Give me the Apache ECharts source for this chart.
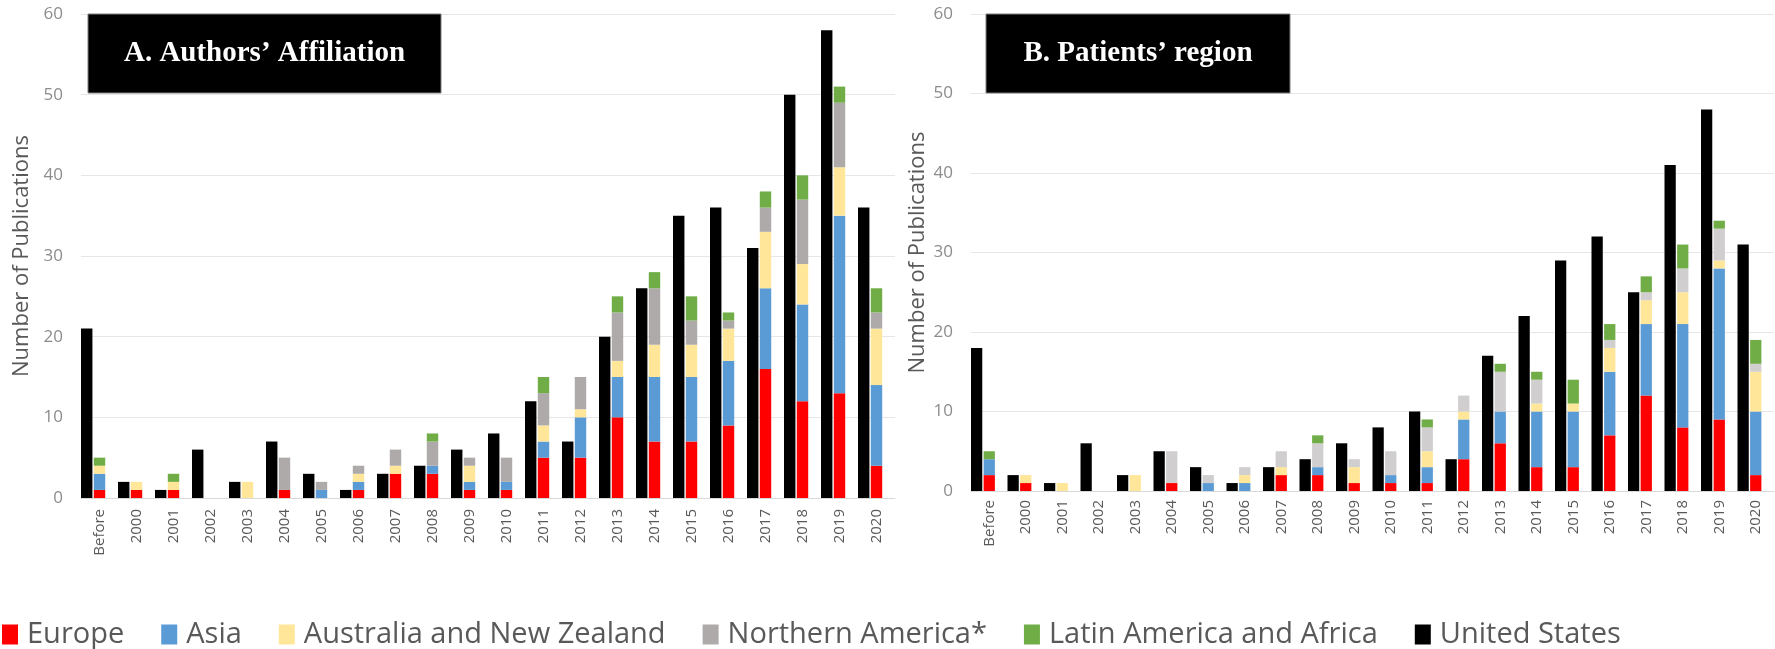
<!DOCTYPE html>
<html>
<head>
<meta charset="utf-8">
<script src="https://cdn.jsdelivr.net/npm/echarts@6/dist/echarts.min.js"></script>
<style>html,body{margin:0;padding:0;background:#fff}#c{width:1775px;height:649px}</style>
</head>
<body>
<div id="c"></div>
<script>
const categories = ['Before','2000','2001','2002','2003','2004','2005','2006','2007','2008','2009','2010','2011','2012','2013','2014','2015','2016','2017','2018','2019','2020'];
const seriesNames = ['Europe','Asia','Australia and New Zealand','Northern America*','Latin America and Africa','United States'];
const yTicks = [0,10,20,30,40,50,60];

// Panel A: Authors' affiliation
const usA = [21,2,1,6,2,7,3,1,3,4,6,8,12,7,20,26,35,36,31,50,58,36];
const europeA = [1,1,1,0,0,1,0,1,3,3,1,1,5,5,10,7,7,9,16,12,13,4];
const asiaA = [2,0,0,0,0,0,1,1,0,1,1,1,2,5,5,8,8,8,10,12,22,10];
const ausA = [1,1,1,0,2,0,0,1,1,0,2,0,2,1,2,4,4,4,7,5,6,7];
const northAmA = [0,0,0,0,0,4,1,1,2,3,1,3,4,4,6,7,3,1,3,8,8,2];
const latAfA = [1,0,1,0,0,0,0,0,0,1,0,0,2,0,2,2,3,1,2,3,2,3];

// Panel B: Patients' region
const usB = [18,2,1,6,2,5,3,1,3,4,6,8,10,4,17,22,29,32,25,41,48,31];
const europeB = [2,1,0,0,0,1,0,0,2,2,1,1,1,4,6,3,3,7,12,8,9,2];
const asiaB = [2,0,0,0,0,0,1,1,0,1,0,1,2,5,4,7,7,8,9,13,19,8];
const ausB = [0,1,1,0,2,0,0,1,1,0,2,0,2,1,0,1,1,3,3,4,1,5];
const northAmB = [0,0,0,0,0,4,1,1,2,3,1,3,3,2,5,3,0,1,1,3,4,1];
const latAfB = [1,0,0,0,0,0,0,0,0,1,0,0,1,0,1,1,3,2,2,3,1,3];

const titleA = 'A. Authors\u2019 Affiliation';
const titleB = 'B. Patients\u2019 region';
const yName = 'Number of Publications';

const colors = {
  'Europe':'#FF0000','Asia':'#5B9BD5','Australia and New Zealand':'#FFE699',
  'Northern America*':'#AEAAAA','Latin America and Africa':'#70AD47','United States':'#000000'
};
const naColorB = '#D0CECE';

const chart = echarts.init(document.getElementById('c'));
const font = '"Open Sans", sans-serif';

function xAxisFor(i, margin){
  return {type:'category', gridIndex:i, data:categories,
    axisLine:{show:true, lineStyle:{color:'#D9D9D9', width:1}},
    axisTick:{show:false},
    axisLabel:{rotate:90, interval:0, margin:margin, color:'#595959', fontSize:15, fontFamily:font}};
}
function yAxisFor(i, gap){
  return {type:'value', gridIndex:i, min:yTicks[0], max:yTicks[yTicks.length-1], interval:10,
    name:yName, nameLocation:'middle', nameGap:gap, nameRotate:90,
    nameTextStyle:{color:'#595959', fontSize:22, fontFamily:font},
    axisLine:{show:false}, axisTick:{show:false},
    splitLine:{lineStyle:{color:'#E6E6E6', width:1}},
    axisLabel:{margin:18, color:'#8C8C8C', fontSize:17, fontFamily:font}};
}
function panelSeries(i, us, eu, as, au, na, la, naColor){
  const mk = (name, data, stack, color) => ({
    name, type:'bar', xAxisIndex:i, yAxisIndex:i, stack, data,
    itemStyle:{color}, barCategoryGap:'0%', barGap:'12%', emphasis:{disabled:true}
  });
  return [
    mk('United States', us, 'us'+i, colors['United States']),
    mk('Europe', eu, 'reg'+i, colors['Europe']),
    mk('Asia', as, 'reg'+i, colors['Asia']),
    mk('Australia and New Zealand', au, 'reg'+i, colors['Australia and New Zealand']),
    mk('Northern America*', na, 'reg'+i, naColor),
    mk('Latin America and Africa', la, 'reg'+i, colors['Latin America and Africa']),
    // empty spacer slot (keeps the cluster left-aligned like the original)
    {name:'spacer'+i, type:'bar', xAxisIndex:i, yAxisIndex:i, stack:'sp'+i,
     data:categories.map(()=> '-'), barCategoryGap:'0%', barGap:'12%', silent:true}
  ];
}

const option = {
  animation:false,
  backgroundColor:'#fff',
  grid:[
    {left:81, right:880, top:14, bottom:151, containLabel:false},
    {left:971, right:1, top:14, bottom:158, containLabel:false}
  ],
  xAxis:[xAxisFor(0, 11), xAxisFor(1, 9)],
  yAxis:[yAxisFor(0, 48), yAxisFor(1, 42)],
  legend:{
    data:seriesNames.map(n=>({name:n, itemStyle:{color:colors[n]}})),
    left:-3, top:615, itemWidth:16, itemHeight:20, itemGap:37,
    icon:'rect', selectedMode:false,
    textStyle:{color:'#595959', fontSize:29, fontFamily:font, padding:[0,0,0,4]}
  },
  graphic:[
    {type:'rect', shape:{x:88, y:14, width:353, height:79}, style:{fill:'#000', stroke:'#7f7f7f', lineWidth:1}, z:100},
    {type:'text', x:264.5, y:54, style:{text:titleA, fill:'#fff', font:'bold 29px "Liberation Serif", "Times New Roman", serif', textAlign:'center', textVerticalAlign:'middle'}, z:101},
    {type:'rect', shape:{x:986, y:14, width:304, height:79}, style:{fill:'#000', stroke:'#7f7f7f', lineWidth:1}, z:100},
    {type:'text', x:1138, y:54, style:{text:titleB, fill:'#fff', font:'bold 29px "Liberation Serif", "Times New Roman", serif', textAlign:'center', textVerticalAlign:'middle'}, z:101}
  ],
  series:[
    ...panelSeries(0, usA, europeA, asiaA, ausA, northAmA, latAfA, colors['Northern America*']),
    ...panelSeries(1, usB, europeB, asiaB, ausB, northAmB, latAfB, naColorB)
  ]
};
chart.setOption(option);
</script>
</body>
</html>
